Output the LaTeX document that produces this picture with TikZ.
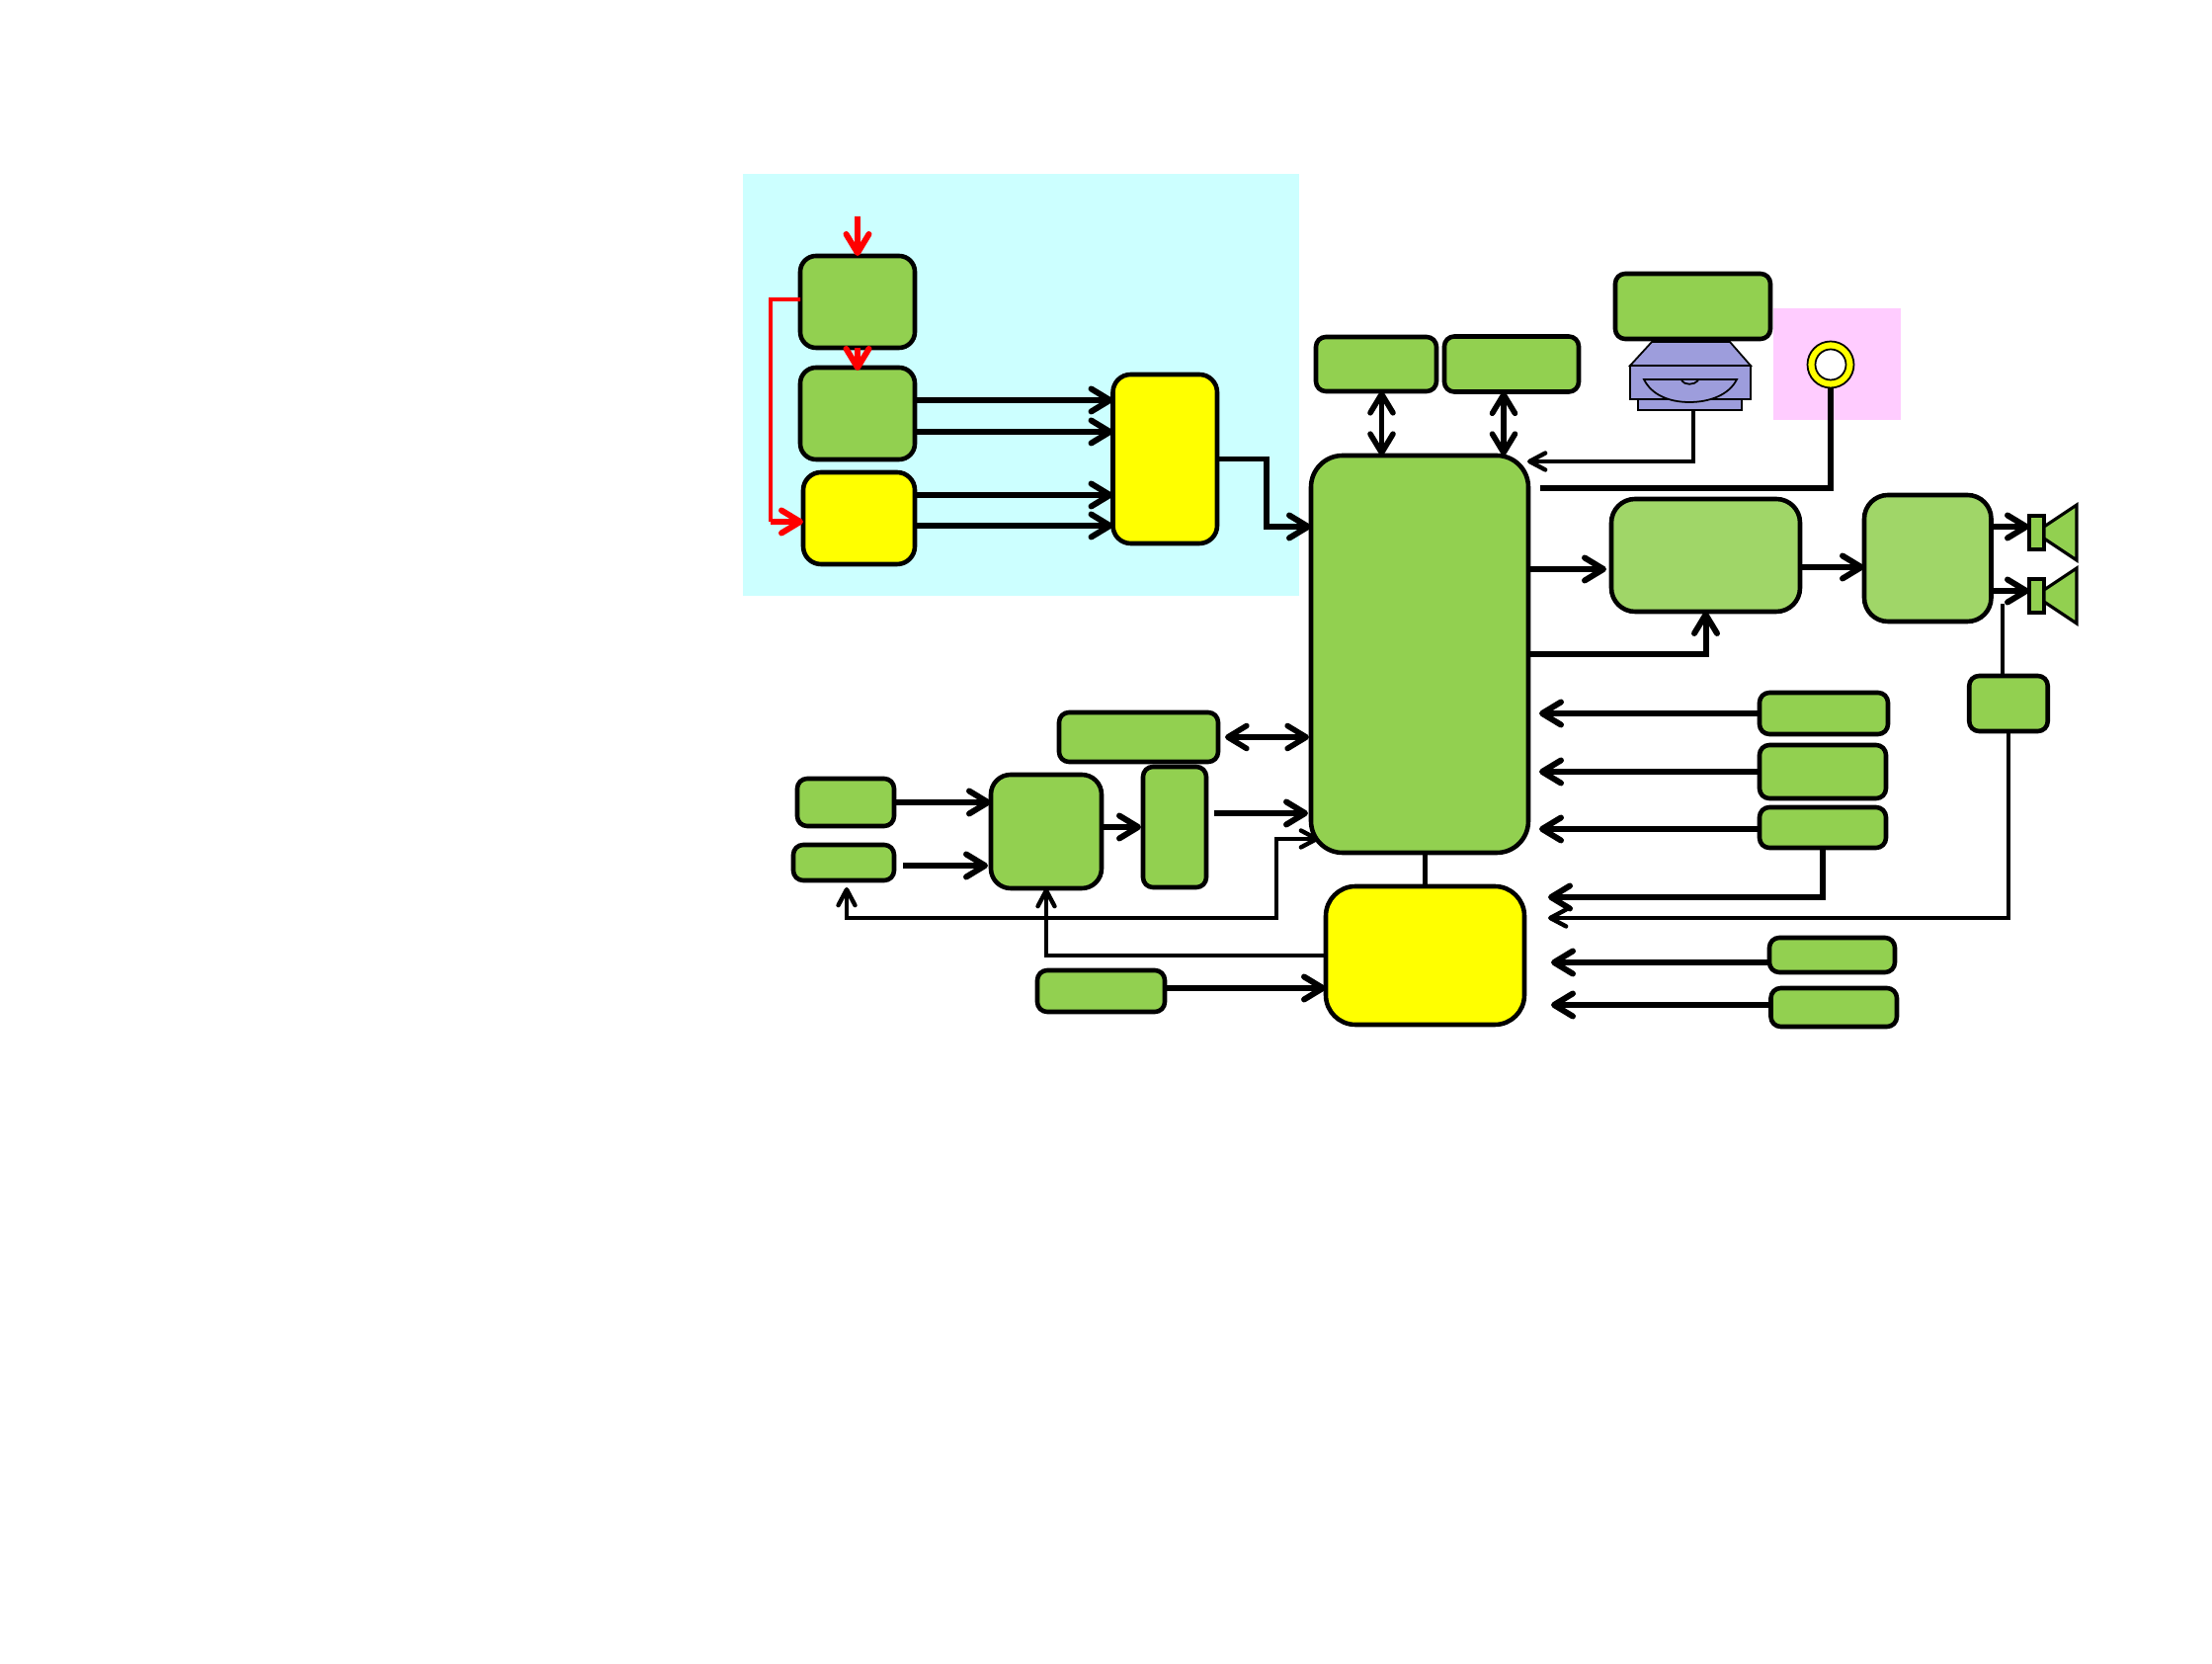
\documentclass[tikz,border=0pt]{standalone}
\usepackage{tikz}
\usepackage{xcolor}
\usetikzlibrary{arrows.meta,positioning,calc}
\definecolor{LeafGreen}{HTML}{92D050}
\definecolor{PaleGreen}{HTML}{A0D668}
\definecolor{BoxYellow}{HTML}{FFFF00}
\definecolor{SoftCyan}{HTML}{CCFFFF}
\definecolor{SoftPink}{HTML}{FFCCFF}
\definecolor{DriveBlue}{HTML}{9D9DDC}
\definecolor{WireRed}{HTML}{FF0000}
\tikzset{
  boxsize/.style 2 args={minimum width=#1cm+.2mm, minimum height=#2cm+.2mm},
  greenbox/.style={rounded corners=1mm, draw=black, fill=LeafGreen, line width=1.3pt, inner sep=0pt, outer sep=0pt},
  palebox/.style={greenbox, fill=PaleGreen, rounded corners=2.4mm},
  yellowbox/.style={greenbox, fill=BoxYellow, rounded corners=1.8mm},
  speakerbox/.style={greenbox, sharp corners, line width=1.1pt},
  trunk/.style={line width=1.7pt, draw=black},
  link/.style={-{Straight Barb[round,length=1.9mm,width=2.3mm]}, line width=1.7pt, draw=black},
  duplex/.style={{Straight Barb[round,length=1.9mm,width=2.3mm]}-{Straight Barb[round,length=1.9mm,width=2.3mm]}, line width=1.6pt, draw=black},
  wire/.style={-{Straight Barb[round,length=1.6mm,width=1.7mm]}, line width=1.25pt, draw=black},
  redlink/.style={-{Straight Barb[round,length=1.9mm,width=2.3mm]}, line width=1.7pt, draw=WireRed},
  redwire/.style={line width=1.05pt, draw=WireRed},
  drivepart/.style={draw=black, fill=DriveBlue, line width=.5pt},
  cone/.style={draw=black, fill=LeafGreen, line width=.9pt}
}

\begin{document}
\begin{tikzpicture}[x=1cm, y=-1cm]
    \useasboundingbox (0,0) rectangle (22.39,16.84);
    \fill[SoftCyan] (7.52,1.76) rectangle (13.15,6.03);
    \fill[SoftPink] (17.95,3.12) rectangle (19.24,4.25);

    % free ends of the connectors
    \coordinate (tapS) at (8.57,8.98);
    \coordinate (tapTurn) at (12.92,9.29);
    \coordinate (tapMain) at (13.35,8.49);
    \coordinate (redIn) at (8.68,2.19);
    \coordinate (redTurn) at (7.80,5.28);
    \coordinate (driveOut) at (17.14,4.16);
    \coordinate (driveIn) at (15.46,4.67);
    \coordinate (ringIn) at (15.59,4.94);
    \coordinate (auxIn) at (15.67,9.08);
    \coordinate (ampIn) at (15.67,9.29);
    \coordinate (ampTap) at (20.27,6.11);

    \draw[wire, {Straight Barb[round,length=1.6mm,width=1.7mm]}-{Straight Barb[round,length=1.6mm,width=1.7mm]}] (tapS) |- (tapTurn) |- (tapMain);

    % source group
    \node[greenbox, rounded corners=1.6mm, boxsize={1.14}{.91}] (srcTop) at (8.68,3.055) {};
    \node[greenbox, rounded corners=1.6mm, boxsize={1.14}{.91}, below=.2cm of srcTop] (srcMid) {};
    \node[yellowbox, boxsize={1.11}{.91}, below=.13cm of srcMid.south east, anchor=north east] (srcLow) {};
    \node[yellowbox, boxsize={1.035}{1.69}, right=2.005cm of srcMid, yshift=-.46cm] (mixBox) {};

    % centre
    \node[greenbox, rounded corners=3.2mm, boxsize={2.18}{4}] (mainBox) at (14.37,6.62) {};
    \node[yellowbox, rounded corners=3mm, boxsize={1.99}{1.38}, below=.34cm of mainBox, xshift=.055cm] (hubBox) {};
    \node[greenbox, boxsize={1.2}{.53}, above=.65cm of mainBox.north west, anchor=south west, xshift=.05cm] (topA) {};
    \node[greenbox, boxsize={1.34}{.54}, right=.08cm of topA] (topB) {};

    % top right
    \node[greenbox, boxsize={1.55}{.64}] (screen) at (17.135,3.10) {};
    \node[circle, draw=black, fill=BoxYellow, line width=.5pt, minimum size=.47cm, inner sep=0pt] (ring) at (18.53,3.69) {};
    \node[circle, draw=black, fill=white, line width=.5pt, minimum size=.31cm, inner sep=0pt] (ringHole) at (ring) {};
    \draw[drivepart] (16.72,3.46) -- (17.51,3.46) -- (17.72,3.70) -- (16.50,3.70) -- cycle;
    \draw[drivepart] (16.58,4.04) rectangle (17.63,4.15);
    \draw[drivepart] (16.50,3.70) rectangle (17.72,4.04);
    \draw[drivepart] (16.64,3.84) -- (17.58,3.84) .. controls (17.5,4.0) and (17.3,4.07) .. (17.10,4.07) .. controls (16.9,4.07) and (16.72,4.0) .. (16.64,3.84) -- cycle;
    \draw[drivepart] (17.02,3.85) .. controls (17.05,3.90) and (17.15,3.90) .. (17.19,3.85);

    % audio chain
    \node[palebox, boxsize={1.89}{1.12}] (procBox) at (17.265,5.62) {};
    \node[palebox, boxsize={1.265}{1.26}, right=.65cm of procBox, yshift=-.03cm] (ampBox) {};
    \node[speakerbox, boxsize={.13}{.32}] (spkA) at (20.615,5.39) {};
    \node[speakerbox, boxsize={.13}{.32}] (spkB) at (20.615,6.03) {};
    \draw[cone] (spkA.east |- 0,5.33) -- (21.02,5.11) -- (21.02,5.67) -- (spkA.east |- 0,5.45) -- cycle;
    \draw[cone] (spkB.east |- 0,5.97) -- (21.02,5.75) -- (21.02,6.31) -- (spkB.east |- 0,6.09) -- cycle;

    % right column
    \node[greenbox, boxsize={1.28}{.4}] (inA) at (18.46,7.22) {};
    \node[greenbox, boxsize={1.26}{.52}, below=.11cm of inA.south west, anchor=north west] (inB) {};
    \node[greenbox, boxsize={1.26}{.39}, below=.09cm of inB.south west, anchor=north west] (inC) {};
    \node[greenbox, boxsize={1.25}{.33}] (inD) at (18.545,9.665) {};
    \node[greenbox, boxsize={1.255}{.37}, below=.16cm of inD.south west, anchor=north west, xshift=.015cm] (inE) {};
    \node[greenbox, boxsize={.775}{.54}] (ampCtl) at (20.33,7.12) {};

    % left lower group
    \node[greenbox, boxsize={.96}{.46}] (leftA) at (8.56,8.12) {};
    \node[greenbox, boxsize={1}{.34}, below=.19cm of leftA.south east, anchor=north east] (leftB) {};
    \node[greenbox, rounded corners=2mm, boxsize={1.1}{1.13}] (decBox) at (10.59,8.415) {};
    \node[greenbox, boxsize={.62}{1.2}, right=.42cm of decBox, yshift=.045cm] (barBox) {};
    \node[greenbox, boxsize={1.59}{.48}] (wideBox) at (11.525,7.46) {};
    \node[greenbox, boxsize={1.27}{.4}] (lowBox) at (11.145,10.03) {};

    \draw[redlink] (redIn) -- (srcTop.north);
    \draw[redlink] (srcTop.south) -- ([yshift=-.03cm]srcMid.north);
    \draw[redwire] ([yshift=.025cm]srcTop.west) -- ++(-.30,0) -- (redTurn);
    \draw[redlink] (redTurn) -- (srcLow.west |- redTurn);

    \draw[link] (srcMid.east |- 0,4.05) -- (mixBox.west |- 0,4.05);
    \draw[link] (srcMid.east |- 0,4.37) -- (mixBox.west |- 0,4.37);
    \draw[link] (srcLow.east |- 0,5.01) -- (mixBox.west |- 0,5.01);
    \draw[link] (srcLow.east |- 0,5.32) -- (mixBox.west |- 0,5.32);
    \draw[link] (mixBox.east) -- ++(.5,0) |- (mainBox.west |- 0,5.33);

    \draw[duplex] ([xshift=.055cm]topA.south) -- ([xshift=.055cm]topA.south |- mainBox.north);
    \draw[duplex] ([xshift=-.08cm]topB.south) -- ([xshift=-.08cm]topB.south |- mainBox.north);
    \draw[wire] (driveOut) |- (driveIn);
    \draw[trunk] (ring.south) |- (ringIn);

    \draw[link] (mainBox.east |- 0,5.76) -- ([xshift=-.05cm]procBox.west |- 0,5.76);
    \draw[link] (mainBox.east |- 0,6.62) -| (procBox.south);
    \draw[link] (procBox.east |- 0,5.74) -- (ampBox.west |- 0,5.74);
    \draw[link] (ampBox.east |- 0,5.33) -- (spkA.west |- 0,5.33);
    \draw[link] (ampBox.east |- 0,5.98) -- (spkB.west |- 0,5.98);
    \draw[wire, -] (ampCtl.north -| ampTap) -- (ampTap);

    \draw[link] (inA.west) -- ([xshift=.11cm]mainBox.east |- inA.west);
    \draw[link] (inB.west) -- ([xshift=.11cm]mainBox.east |- inB.west);
    \draw[link] ([yshift=-.015cm]inC.west) -- ([xshift=.11cm,yshift=-.015cm]mainBox.east |- inC.west);
    \draw[link] (inC.south) |- (auxIn);
    \draw[wire] (ampCtl.south) |- (ampIn);
    \draw[link] ([yshift=-.075cm]inD.west) -- ([xshift=.27cm,yshift=-.075cm]hubBox.east |- inD.west);
    \draw[link] ([yshift=.025cm]inE.west) -- ([xshift=.27cm,yshift=.025cm]hubBox.east |- inE.west);

    \draw[trunk] (hubBox.north) -- (hubBox.north |- mainBox.south);

    \draw[duplex] ([xshift=.07cm]wideBox.east) -- ([xshift=-.02cm]mainBox.west |- wideBox.east);
    \draw[link] ([xshift=.08cm,yshift=.14cm]barBox.east) -- ([xshift=-.03cm,yshift=.14cm]mainBox.west |- barBox.east);
    \draw[link] (decBox.east |- barBox.west) -- ([xshift=-.02cm]barBox.west);
    \draw[link] (leftA.east) -- (decBox.west |- leftA.east);
    \draw[link] ([xshift=.09cm,yshift=-.03cm]leftB.east) -- ([xshift=-.03cm,yshift=-.03cm]decBox.west |- leftB.east);
    \draw[wire] (hubBox.west) -| (decBox.south);
    \draw[link] ([yshift=.03cm]lowBox.east) -- ([yshift=.03cm]hubBox.west |- lowBox.east);
\end{tikzpicture}
\end{document}
